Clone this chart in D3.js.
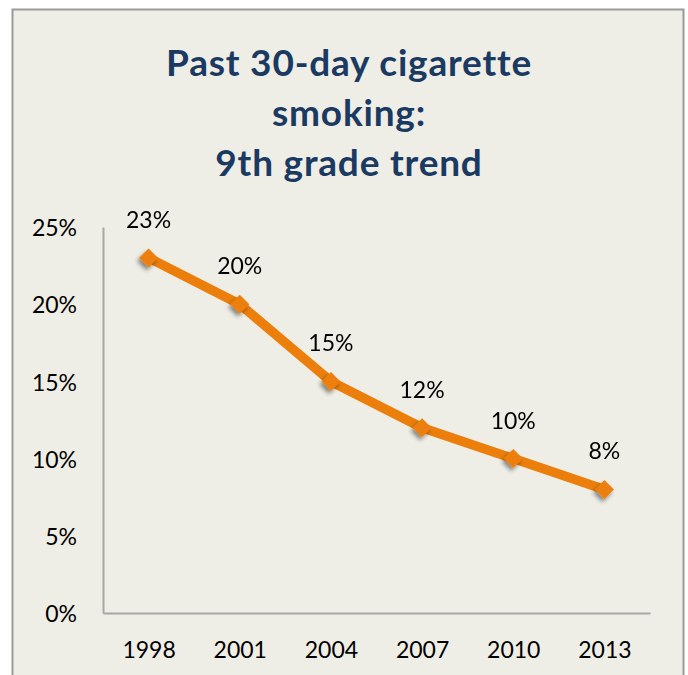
<!DOCTYPE html>
<html>
<head>
<meta charset="utf-8">
<script src="https://cdn.jsdelivr.net/npm/d3@7"></script>
<style>
  html, body { margin: 0; padding: 0; background: #ffffff; }
  svg { display: block; }
  text { font-family: Lato, "Open Sans", sans-serif; }
</style>
</head>
<body>
<svg id="chart" width="688" height="675"></svg>
<script>
// Past 30-day cigarette smoking among 9th graders, by survey year
const years = ["1998", "2001", "2004", "2007", "2010", "2013"];
const rates = [23, 20, 15, 12, 10, 8];
const yTicks = [0, 5, 10, 15, 20, 25];
const titleLines = ["Past 30-day cigarette", "smoking:", "9th grade trend"];

const svg = d3.select("#chart");
const W = 688, H = 675;

// panel with beige fill and grey frame
svg.append("rect")
  .attr("x", 12).attr("y", 9)
  .attr("width", 671).attr("height", H)
  .attr("fill", "#efeee6");
svg.append("path")
  .attr("d", `M12.5,${H} V9.5 H683.5 V${H}`)
  .attr("fill", "none")
  .attr("stroke", "#9a9a9a")
  .attr("stroke-width", 2);

// title
svg.append("text")
  .attr("x", 349).attr("y", 76)
  .attr("text-anchor", "middle")
  .attr("font-size", 37)
  .attr("letter-spacing", 0.8)
  .attr("font-weight", 700)
  .attr("fill", "#1b3a62")
  .selectAll("tspan")
  .data(titleLines)
  .join("tspan")
  .attr("x", 349)
  .attr("dy", (d, i) => i === 0 ? 0 : 50)
  .text(d => d);

// scales
const x = d3.scalePoint().domain(years).range([103, 650]).padding(0.5);
const y = d3.scaleLinear().domain([0, 25]).range([613, 227]);

// axes
const axisColor = "#a6a6a6";
const yAxis = svg.append("g")
  .attr("transform", "translate(103,0)")
  .call(d3.axisLeft(y).tickValues(yTicks).tickFormat(d => d + "%").tickSize(0).tickPadding(26));
const xAxis = svg.append("g")
  .attr("transform", "translate(0,613)")
  .call(d3.axisBottom(x).tickSize(0).tickPadding(37));

[yAxis, xAxis].forEach(g => {
  g.select(".domain").attr("stroke", axisColor).attr("stroke-width", 2);
  g.selectAll("text")
    .attr("font-family", "Lato, 'Open Sans', sans-serif")
    .attr("font-size", 23)
    .attr("fill", "#000");
});
yAxis.selectAll("text").attr("dy", "0.38em");
xAxis.selectAll("text").attr("dy", "0.35em");

// soft shadow for the markers
const defs = svg.append("defs");
const f = defs.append("filter").attr("id", "shadow")
  .attr("x", "-50%").attr("y", "-50%").attr("width", "200%").attr("height", "200%");
f.append("feDropShadow")
  .attr("dx", -2).attr("dy", 3)
  .attr("stdDeviation", 2)
  .attr("flood-color", "#000")
  .attr("flood-opacity", 0.45);

const data = years.map((yr, i) => ({ year: yr, value: rates[i] }));
const orange = "#ec7f0b";

// trend line
svg.append("path")
  .datum(data)
  .attr("fill", "none")
  .attr("stroke", orange)
  .attr("stroke-width", 9.5)
  .attr("stroke-linejoin", "round")
  .attr("d", d3.line().x(d => x(d.year)).y(d => y(d.value)));

// diamond markers
const diamond = d3.symbol().type(d3.symbolDiamond2).size(230);
svg.append("g")
  .attr("filter", "url(#shadow)")
  .selectAll("path")
  .data(data)
  .join("path")
  .attr("transform", d => `translate(${x(d.year)},${y(d.value)})`)
  .attr("d", diamond)
  .attr("fill", orange);

// value labels
svg.append("g")
  .selectAll("text")
  .data(data)
  .join("text")
  .attr("x", d => x(d.year))
  .attr("y", d => y(d.value) - 30)
  .attr("text-anchor", "middle")
  .attr("font-size", 23)
  .attr("fill", "#000")
  .text(d => d.value + "%");
</script>
</body>
</html>
